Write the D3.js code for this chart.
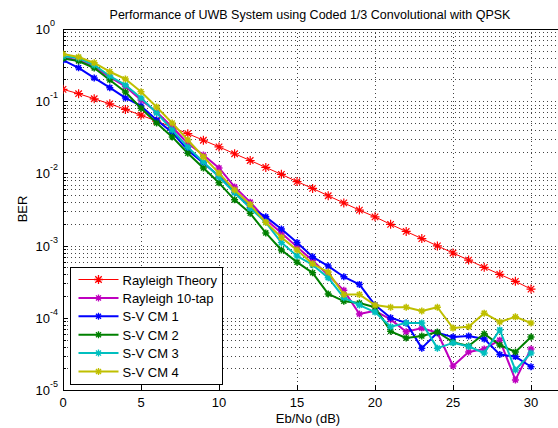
<!DOCTYPE html>
<html lang="en">
<head>
<meta charset="utf-8">
<title>UWB BER</title>
<script src="https://d3js.org/d3.v7.min.js"></script>
<style>
  body { margin: 0; background: #fff; }
  text { font-family: Arial, "Liberation Sans", Helvetica, sans-serif; fill: #000; }
</style>
</head>
<body>
<script>
// Eb/No points (dB)
var ebno = [0,1,2,3,4,5,6,7,8,9,10,11,12,13,14,15,16,17,18,19,20,21,22,23,24,25,26,27,28,29,30];

// BER values
var rayTheory = [0.146,0.127,0.108,0.092,0.077,0.064,0.053,0.0435,0.0355,0.0288,0.0233,0.0187,0.0151,0.0121,0.0097,
  0.0077,0.0062,0.0049,0.0039,0.0031,0.0025,0.00197,0.00157,0.00125,0.00099,0.00079,0.00063,0.0005,0.0004,0.00032,0.00025];
var ray10tap = [0.40,0.37,0.30,0.215,0.16,0.104,0.071,0.044,0.026,0.018,0.0119,0.0065,0.004,0.0023,0.0015,
  0.00096,0.00062,0.00039,0.00024,0.000113,0.000125,0.000095,0.000064,0.000072,0.000062,0.0000215,0.0000336,0.000037,0.000049,0.0000138,0.000037];
var svCM1 = [0.37,0.29,0.21,0.154,0.111,0.086,0.055,0.037,0.021,0.0139,0.0092,0.0055,0.0034,0.0025,0.0017,
  0.0011,0.0007,0.00052,0.00037,0.00029,0.00015,0.0001,0.000085,0.000038,0.000062,0.000054,0.000056,0.000051,0.000031,0.000029,0.000021];
var svCM2 = [0.39,0.36,0.288,0.197,0.134,0.08,0.05,0.032,0.019,0.0119,0.0074,0.0043,0.0028,0.0015,0.00087,
  0.00059,0.00042,0.000214,0.00017,0.00016,0.00014,0.000065,0.0000525,0.000056,0.0000636,0.000046,0.0000406,0.00006,0.000042,0.0000336,0.0000542];
var svCM3 = [0.42,0.397,0.317,0.223,0.168,0.111,0.069,0.04,0.023,0.0144,0.0089,0.0054,0.0033,0.0021,0.0011,
  0.00072,0.00054,0.00036,0.00019,0.00015,0.00012,0.000075,0.000085,0.000085,0.000038,0.000045,0.00004,0.0000325,0.000068,0.0000189,0.0000325];
var svCM4 = [0.45,0.41,0.34,0.256,0.203,0.135,0.083,0.05,0.029,0.017,0.0101,0.0059,0.0037,0.0021,0.0013,
  0.00087,0.00056,0.00043,0.00021,0.00021,0.00015,0.00014,0.00014,0.000124,0.00014,0.000072,0.000075,0.000116,0.0000875,0.000103,0.0000847];

var seriesNames = ["Rayleigh Theory","Rayleigh 10-tap","S-V CM 1","S-V CM 2","S-V CM 3","S-V CM 4"];
var seriesColors = ["#ff0000","#bf00bf","#0000ff","#008000","#00bfbf","#bfbf00"];
var seriesData = [rayTheory, ray10tap, svCM1, svCM2, svCM3, svCM4];

var xTicks = [0,5,10,15,20,25,30,35];
var yTicks = [1,0.1,0.01,0.001,0.0001,0.00001];
var yExp = [0,-1,-2,-3,-4,-5];

const chartW = 558, chartH = 428;
const padL = 63, padT = 29, padB = 390;

var svg = d3.select("body").append("svg")
  .attr("width", chartW).attr("height", chartH);

var xScale = d3.scaleLinear().domain([0,35]).range([padL, padL + 35*15.6]);
var yScale = d3.scaleLog().domain([1e-5, 1]).range([padB, padT]);

// clip region for plot
svg.append("defs").append("clipPath").attr("id","clip")
  .append("rect").attr("x", padL).attr("y", padT).attr("width", chartW - padL).attr("height", padB - padT);

var grid = svg.append("g").attr("clip-path","url(#clip)");

// minor horizontal grid
var minor = [];
yExp.slice(1).forEach(function(e){
  for (var k = 2; k <= 9; k++) minor.push(k * Math.pow(10, e));
});
function hLine(sel, cls, data) {
  sel.selectAll("." + cls).data(data).enter().append("line")
    .attr("x1", padL).attr("x2", chartW)
    .attr("y1", function(d){ return Math.round(yScale(d)) + 0.5; })
    .attr("y2", function(d){ return Math.round(yScale(d)) + 0.5; })
    .attr("stroke", "#444").attr("stroke-width", 1).attr("stroke-dasharray", "1,3");
}
hLine(grid, "hminor", minor);
hLine(grid, "hmajor", yTicks.slice(1));
grid.selectAll(".vmajor").data(xTicks.slice(1)).enter().append("line")
  .attr("y1", padT).attr("y2", padB)
  .attr("x1", function(d){ return Math.round(xScale(d)) + 0.5; })
  .attr("x2", function(d){ return Math.round(xScale(d)) + 0.5; })
  .attr("stroke", "#444").attr("stroke-width", 1).attr("stroke-dasharray", "1,3");

// frame
svg.append("line").attr("x1", padL).attr("x2", chartW).attr("y1", padT + 0.5).attr("y2", padT + 0.5).attr("stroke","#000");
svg.append("line").attr("x1", padL).attr("x2", chartW).attr("y1", padB + 0.5).attr("y2", padB + 0.5).attr("stroke","#000");
svg.append("line").attr("x1", padL + 0.5).attr("x2", padL + 0.5).attr("y1", padT).attr("y2", padB + 1).attr("stroke","#000");

// axis ticks
svg.selectAll(".ytick").data(yTicks).enter().append("line")
  .attr("x1", padL).attr("x2", padL + 5)
  .attr("y1", function(d){ return Math.round(yScale(d)) + 0.5; }).attr("y2", function(d){ return Math.round(yScale(d)) + 0.5; })
  .attr("stroke","#000");
svg.selectAll(".ymtick").data(minor).enter().append("line")
  .attr("x1", padL).attr("x2", padL + 3)
  .attr("y1", function(d){ return Math.round(yScale(d)) + 0.5; }).attr("y2", function(d){ return Math.round(yScale(d)) + 0.5; })
  .attr("stroke","#000");
var shownX = xTicks.filter(function(d){ return xScale(d) < chartW; });
svg.selectAll(".xtick").data(shownX).enter().append("line")
  .attr("x1", function(d){ return Math.round(xScale(d)) + 0.5; }).attr("x2", function(d){ return Math.round(xScale(d)) + 0.5; })
  .attr("y1", padB).attr("y2", padB - 5).attr("stroke","#000");

// tick labels
svg.selectAll(".xlab").data(shownX).enter().append("text")
  .attr("x", function(d){ return xScale(d); }).attr("y", padB + 17)
  .attr("text-anchor","middle").attr("font-size","13px")
  .text(function(d){ return d; });

svg.selectAll(".ylab").data(yTicks).enter().append("text")
  .attr("x", 50).attr("y", function(d){ return yScale(d) + 5; })
  .attr("text-anchor","end").attr("font-size","13px")
  .text("10");
svg.selectAll(".yexp").data(yTicks).enter().append("text")
  .attr("x", 50).attr("y", function(d){ return yScale(d) - 3; })
  .attr("font-size","9px")
  .text(function(d, i){ return yExp[i]; });

// titles
svg.append("text").attr("x", 310).attr("y", 19).attr("text-anchor","middle")
  .attr("font-size","12.5px").text("Performance of UWB System using Coded 1/3 Convolutional with QPSK");
svg.append("text").attr("x", 308).attr("y", 423).attr("text-anchor","middle")
  .attr("font-size","13px").text("Eb/No (dB)");
svg.append("text").attr("transform","translate(27,209) rotate(-90)").attr("text-anchor","middle")
  .attr("font-size","13px").text("BER");

// marker shape
function starPath(s) {
  var d = s * 0.72;
  return "M" + (-s) + ",0L" + s + ",0M0," + (-s) + "L0," + s +
         "M" + (-d) + "," + (-d) + "L" + d + "," + d + "M" + (-d) + "," + d + "L" + d + "," + (-d);
}

var line = d3.line()
  .x(function(d){ return xScale(d[0]); })
  .y(function(d){ return yScale(d[1]); });

var plot = svg.append("g").attr("clip-path","url(#clip)");
seriesData.forEach(function(vals, i){
  var pts = ebno.map(function(x, j){ return [x, vals[j]]; });
  var lw = i === 0 ? 1 : 2;
  var ms = i === 0 ? 4.5 : 3.5;
  plot.append("path").datum(pts)
    .attr("d", line).attr("fill","none")
    .attr("stroke", seriesColors[i]).attr("stroke-width", lw)
    .attr("stroke-linejoin","round");
  plot.selectAll(".m" + i).data(pts).enter().append("path")
    .attr("transform", function(d){ return "translate(" + xScale(d[0]) + "," + yScale(d[1]) + ")"; })
    .attr("d", starPath(ms)).attr("fill","none")
    .attr("stroke", seriesColors[i]).attr("stroke-width", i === 0 ? 1.2 : 1.5);
});

// legend
var lg = svg.append("g").attr("transform","translate(70.5,267.5)");
lg.append("rect").attr("width", 152).attr("height", 117)
  .attr("fill","#fff").attr("stroke","#000");
seriesNames.forEach(function(name, i){
  var yy = 12 + i * 18.4;
  lg.append("line").attr("x1", 8).attr("x2", 48).attr("y1", yy).attr("y2", yy)
    .attr("stroke", seriesColors[i]).attr("stroke-width", i === 0 ? 1 : 2);
  lg.append("path").attr("transform","translate(28," + yy + ")")
    .attr("d", starPath(i === 0 ? 4.5 : 3.5)).attr("fill","none")
    .attr("stroke", seriesColors[i]).attr("stroke-width", 1.3);
  lg.append("text").attr("x", 52).attr("y", yy + 5)
    .attr("font-size","13px").text(name);
});
</script>
</body>
</html>
